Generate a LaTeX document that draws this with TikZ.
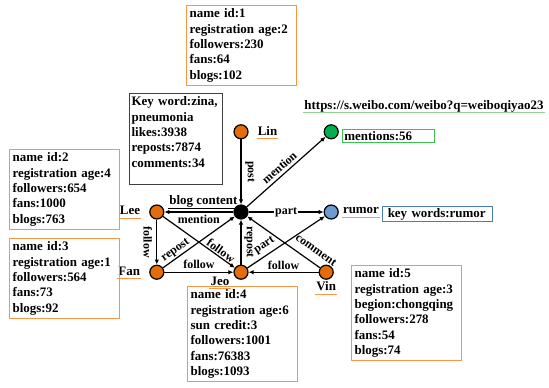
\documentclass[tikz,border=0pt]{standalone}
\usepackage{fontspec}
\setmainfont{Liberation Serif}
\usetikzlibrary{positioning,arrows.meta}
\definecolor{nodeor}{HTML}{E46C0A}
\definecolor{nodegr}{HTML}{00B050}
\definecolor{nodebl}{HTML}{6C9BD2}
\definecolor{lineor}{HTML}{F79646}
\definecolor{linegr}{HTML}{3CBF50}
\definecolor{linebl}{HTML}{4A7EBB}
\definecolor{linegy}{HTML}{404040}
\definecolor{ulgr}{HTML}{8ED38F}
\definecolor{ulbl}{HTML}{8DB3E2}
\tikzset{
  ah/.tip={Latex[length=5bp,width=4.5bp]},
  dot/.style={circle,draw=black,line width=1.2bp,minimum size=14bp,inner sep=0pt},
  info/.style={rectangle,draw=lineor,line width=1.2bp,align=left,anchor=north west,
    inner xsep=3bp,inner ysep=3bp,text width=104bp,font=\bfseries\fontsize{13}{15.5}\selectfont},
  tag/.style={rectangle,line width=1.2bp,align=left,inner ysep=1bp,minimum height=13bp,
    font=\bfseries\fontsize{13}{15}\selectfont},
  lab/.style={inner sep=1pt,font=\bfseries\fontsize{13}{15}\selectfont},
  ul/.style={lab,text depth=2.5bp,append after command={(\tikzlastnode.south west)
    edge[draw=#1,line width=1bp,-] (\tikzlastnode.south east)}},
  elab/.style={inner sep=1pt,font=\bfseries\fontsize{12}{14}\selectfont},
  arr/.style={-ah,line width=1.2bp},
  rarr/.style={ah-,line width=1.2bp},
}
\begin{document}
\begin{tikzpicture}[x=1bp,y=-1bp,node distance=8bp]
  \useasboundingbox (0,0) rectangle (549,387);
  % graph nodes
  \node[dot,fill=black] (bc) at (241,212) {};
  \node[dot,fill=nodeor,above=65bp of bc] (lin) {};
  \node[dot,fill=nodeor,left=69bp of bc] (lee) {};
  \node[dot,fill=nodebl,right=75bp of bc] (rum) {};
  \node[dot,fill=nodegr,above=65bp of rum] (gn) {};
  \node[dot,fill=nodeor,below=45bp of bc] (jeo) {};
  \node[dot,fill=nodeor,below=45bp of lee] (fan) {};
  \node[dot,fill=nodeor,right=70bp of jeo] (vin) {};
  % names
  \node[ul=lineor,right=8bp of lin] (linlab) {Lin};
  \node[ul=lineor,left=8bp of lee] (leelab) {Lee};
  \node[ul=lineor,left=8bp of fan] (fanlab) {Fan};
  \node[ul=lineor] (jeolab) at (220,282) {Jeo};
  \node[ul=lineor,below=1bp of vin] (vinlab) {Vin};
  \node[ul=black,above left=-2bp and -3bp of bc] (bclab) {blog content};
  \node[ul=ulbl,right=3bp of rum] (rumlab) {rumor};
  \node[ul=ulgr] (url) at (424,106) {https://s.weibo.com/weibo?q=weiboqiyao23};
  \node[tag,draw=linegr,text width=88bp,inner xsep=2bp,right=3bp of gn,yshift=-4bp] (mt) {mentions:56};
  \node[tag,draw=linebl,text width=100bp,inner xsep=5bp,minimum height=15bp,right=2bp of rumlab,yshift=-2bp] (kwr) {key words:rumor};
  % edges
  \draw[arr] (lin) -- node[elab,midway,xshift=9bp,rotate=-90] {post} (bc);
  \draw[arr] (bc) -- node[elab,pos=.48,above=2bp,sloped] {mention} (gn);
  \draw[arr] (bc) -- node[elab,midway,below=2bp] {mention} (lee);
  \draw[arr] (bc) -- node[elab,midway,fill=white] {part} (rum);
  \draw[arr] (lee) -- node[elab,midway,xshift=-9bp,rotate=-90] {follow} (fan);
  \draw[arr] (fan) -- node[elab,pos=.23,above,sloped] {repost} (bc);
  \draw[arr] (lee) -- node[elab,pos=.76,above,sloped] {follow} (jeo);
  \draw[arr] (fan) -- node[elab,midway,above=2bp] {follow} (jeo);
  \draw[arr] (jeo) -- node[elab,midway,xshift=8bp,rotate=-90] {repost} (bc);
  \draw[arr] (jeo) -- node[elab,pos=.29,above=3bp,sloped] {part} (rum);
  \draw[rarr] (bc) -- node[elab,pos=.85,above=7bp,sloped] {comment} (vin);
  \draw[arr] (vin) -- node[elab,midway,above=1bp] {follow} (jeo);
  % user and blog info
  \node[info] (u1) at (186,5) {name id:1\\registration age:2\\followers:230\\fans:64\\blogs:102};
  \node[info,draw=linegy,inner xsep=2bp,text width=89bp,text depth=76bp] (kw) at (129,93)
    {Key word:zina,\\pneumonia\\likes:3938\\reposts:7874\\comments:34};
  \node[info] (u2) at (9,149) {name id:2\\registration age:4\\followers:654\\fans:1000\\blogs:763};
  \node[info] (u3) at (9,238) {name id:3\\registration age:1\\followers:564\\fans:73\\blogs:92};
  \node[info] (u4) at (187,286) {name id:4\\registration age:6\\sun credit:3\\followers:1001\\fans:76383\\blogs:1093};
  \node[info] (u5) at (351,265) {name id:5\\registration age:3\\begion:chongqing\\followers:278\\fans:54\\blogs:74};
\end{tikzpicture}
\end{document}
